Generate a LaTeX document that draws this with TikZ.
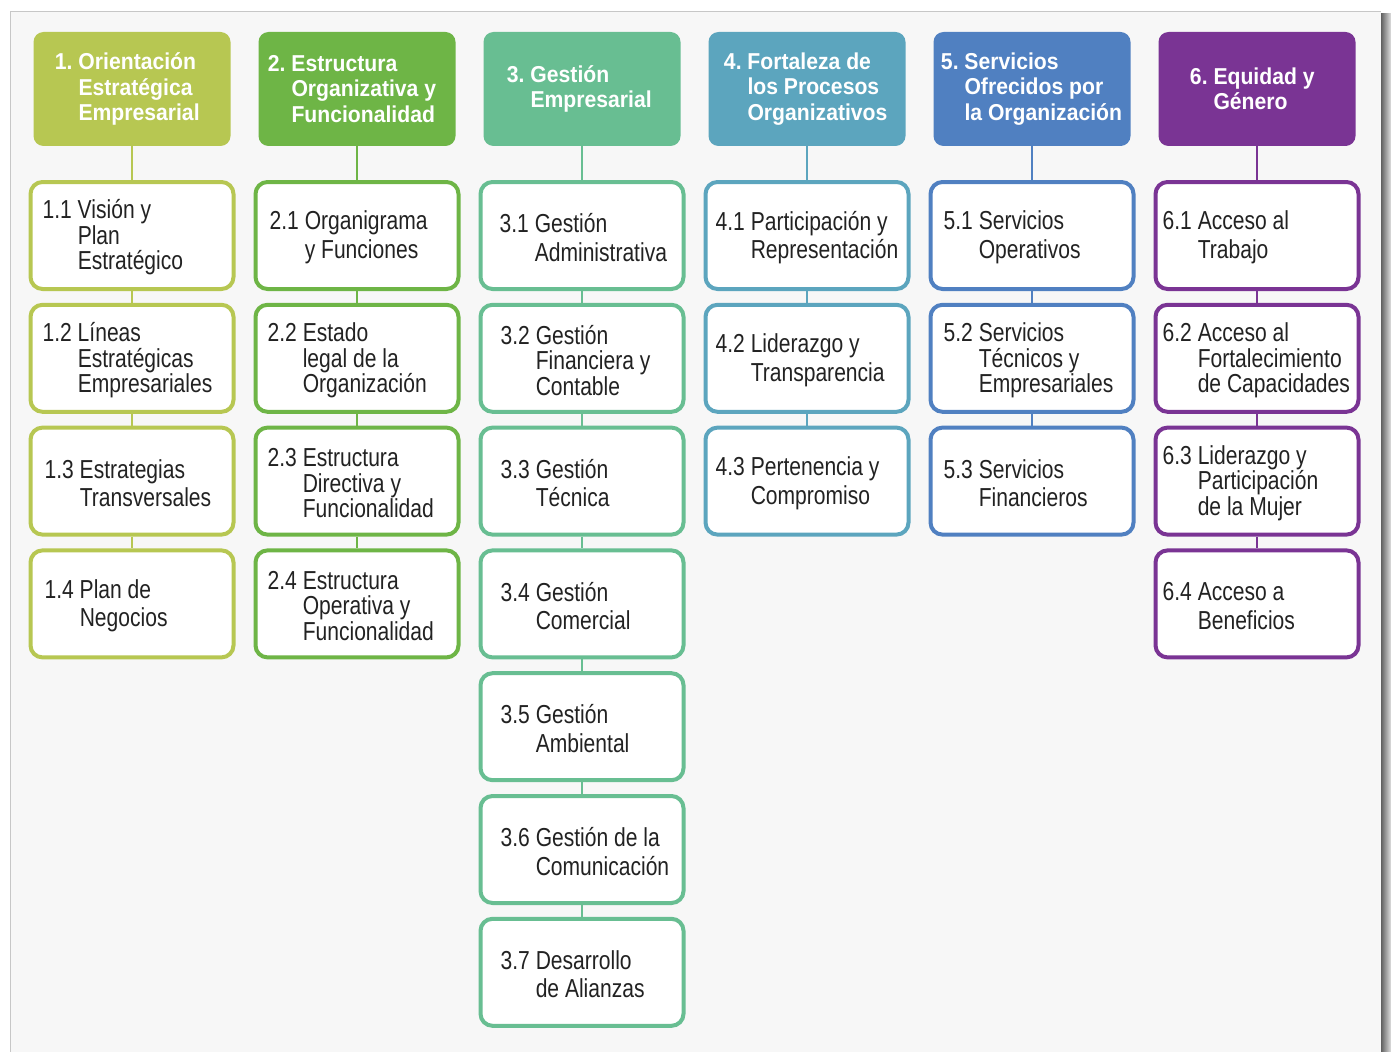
\documentclass[tikz,border=0pt]{standalone}
\usepackage{fontspec}
\setmainfont{Liberation Sans}
\newfontfamily\itemfont[FakeStretch=0.81]{Liberation Sans}
\newfontfamily\titlefont[FakeStretch=0.92]{Liberation Sans}

\definecolor{colA}{RGB}{183,199,82}
\definecolor{colB}{RGB}{110,181,70}
\definecolor{colC}{RGB}{104,190,146}
\definecolor{colD}{RGB}{92,165,190}
\definecolor{colE}{RGB}{80,128,193}
\definecolor{colF}{RGB}{122,52,148}
\definecolor{inktext}{RGB}{34,34,34}
\definecolor{cardbg}{RGB}{247,247,247}

\tikzset{
  headbox/.style={fill=#1, draw=none, rounded corners=7.5pt,
    minimum width=147.75pt, minimum height=85.5pt, inner sep=0pt},
  headtext/.style={anchor=west, inner sep=0pt, align=left, text=white,
    font=\titlefont\bfseries\fontsize{17.25pt}{19.1pt}\selectfont},
  subbox/.style={fill=white, draw=#1, line width=3pt, rounded corners=9pt,
    minimum width=152.25pt, minimum height=80.25pt, inner sep=0pt},
  itemthree/.style={anchor=west, inner sep=0pt, align=left, text=inktext,
    font=\itemfont\fontsize{19.5pt}{19.1pt}\selectfont},
  itemtwo/.style={anchor=west, inner sep=0pt, align=left, text=inktext,
    font=\itemfont\fontsize{19.5pt}{21.4pt}\selectfont},
  link/.style={draw=#1, line width=1.9pt},
}

% header: name, centre x, colour, text offset, number, text
\newcommand\HeadBox[6]{%
  \node[headbox=#3] (#1) at (#2,89) {};
  \node[headtext] (#1-t) at ([xshift=#4*0.75pt]#1.west) {\llap{#5\ }#6};
}
% item: name, centre x, centre y, colour, text offset, style, number, text
\newcommand\SubBox[8]{%
  \node[subbox=#4] (#1) at (#2,#3) {};
  \node[#6] (#1-t) at ([xshift=#5*0.75pt+1.5pt, yshift=-1.5pt]#1.west) {\llap{#7\ }#8};
}

\begin{document}
\begin{tikzpicture}[x=0.75pt,y=-0.75pt]
\useasboundingbox (0,0) rectangle (1391,1052);
\fill[white] (0,0) rectangle (1391,1052);

% card with its edge and right-hand shadow
\fill[cardbg] (10,12) rectangle (1381,1052);
\draw[black!22, line width=0.75pt] (10,1052) -- (10,12) -- (1381,12);
\shade[left color=black!62, right color=black!12] (1381,14) rectangle (1391,1052);

% row centres: 235.5, 358.3, 481.1, 603.9, 726.7, 849.5, 972.3

% column 1
\HeadBox{h1}{132}{colA}{45}{1.}{Orientación\\Estratégica\\Empresarial}
\SubBox{a1}{132}{235.5}{colA}{47}{itemthree}{1.1}{Visión y\\Plan\\Estratégico}
\SubBox{a2}{132}{358.3}{colA}{47}{itemthree}{1.2}{Líneas\\Estratégicas\\Empresariales}
\SubBox{a3}{132}{481.1}{colA}{49}{itemtwo}{1.3}{Estrategias\\Transversales}
\SubBox{a4}{132}{603.9}{colA}{49}{itemtwo}{1.4}{Plan de\\Negocios}

% column 2
\HeadBox{h2}{357}{colB}{33}{2.}{Estructura\\Organizativa y\\Funcionalidad}
\SubBox{b1}{357}{235.5}{colB}{49}{itemtwo}{2.1}{Organigrama\\y Funciones}
\SubBox{b2}{357}{358.3}{colB}{47}{itemthree}{2.2}{Estado\\legal de la\\Organización}
\SubBox{b3}{357}{481.1}{colB}{47}{itemthree}{2.3}{Estructura\\Directiva y\\Funcionalidad}
\SubBox{b4}{357}{603.9}{colB}{47}{itemthree}{2.4}{Estructura\\Operativa y\\Funcionalidad}

% column 3
\HeadBox{h3}{582}{colC}{47}{3.}{Gestión\\Empresarial}
\SubBox{c1}{582}{235.5}{colC}{54}{itemtwo}{3.1}{Gestión\\Administrativa}
\SubBox{c2}{582}{358.3}{colC}{55}{itemthree}{3.2}{Gestión\\Financiera y\\Contable}
\SubBox{c3}{582}{481.1}{colC}{55}{itemtwo}{3.3}{Gestión\\Técnica}
\SubBox{c4}{582}{603.9}{colC}{55}{itemtwo}{3.4}{Gestión\\Comercial}
\SubBox{c5}{582}{726.7}{colC}{55}{itemtwo}{3.5}{Gestión\\Ambiental}
\SubBox{c6}{582}{849.5}{colC}{55}{itemtwo}{3.6}{Gestión de la\\Comunicación}
\SubBox{c7}{582}{972.3}{colC}{55}{itemtwo}{3.7}{Desarrollo\\de Alianzas}

% column 4
\HeadBox{h4}{807}{colD}{39}{4.}{Fortaleza de\\los Procesos\\Organizativos}
\SubBox{d1}{807}{235.5}{colD}{45}{itemtwo}{4.1}{Participación y\\Representación}
\SubBox{d2}{807}{358.3}{colD}{45}{itemtwo}{4.2}{Liderazgo y\\Transparencia}
\SubBox{d3}{807}{481.1}{colD}{45}{itemtwo}{4.3}{Pertenencia y\\Compromiso}

% column 5
\HeadBox{h5}{1032}{colE}{31}{5.}{Servicios\\Ofrecidos por\\la Organización}
\SubBox{e1}{1032}{235.5}{colE}{48}{itemtwo}{5.1}{Servicios\\Operativos}
\SubBox{e2}{1032}{358.3}{colE}{48}{itemthree}{5.2}{Servicios\\Técnicos y\\Empresariales}
\SubBox{e3}{1032}{481.1}{colE}{48}{itemtwo}{5.3}{Servicios\\Financieros}

% column 6
\HeadBox{h6}{1257}{colF}{55}{6.}{Equidad y\\Género}
\SubBox{f1}{1257}{235.5}{colF}{42}{itemtwo}{6.1}{Acceso al\\Trabajo}
\SubBox{f2}{1257}{358.3}{colF}{42}{itemthree}{6.2}{Acceso al\\Fortalecimiento\\de Capacidades}
\SubBox{f3}{1257}{481.1}{colF}{42}{itemthree}{6.3}{Liderazgo y\\Participación\\de la Mujer}
\SubBox{f4}{1257}{603.9}{colF}{42}{itemtwo}{6.4}{Acceso a\\Beneficios}

% vertical links down each column
\draw[link=colA] (h1) -- (a1) (a1) -- (a2) (a2) -- (a3) (a3) -- (a4);
\draw[link=colB] (h2) -- (b1) (b1) -- (b2) (b2) -- (b3) (b3) -- (b4);
\draw[link=colC] (h3) -- (c1) (c1) -- (c2) (c2) -- (c3) (c3) -- (c4)
                 (c4) -- (c5) (c5) -- (c6) (c6) -- (c7);
\draw[link=colD] (h4) -- (d1) (d1) -- (d2) (d2) -- (d3);
\draw[link=colE] (h5) -- (e1) (e1) -- (e2) (e2) -- (e3);
\draw[link=colF] (h6) -- (f1) (f1) -- (f2) (f2) -- (f3) (f3) -- (f4);
\end{tikzpicture}
\end{document}
